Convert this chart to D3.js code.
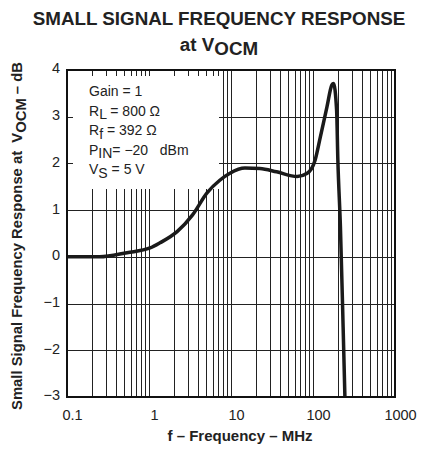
<!DOCTYPE html>
<html><head><meta charset="utf-8">
<script src="https://cdn.jsdelivr.net/npm/d3@7"></script>
<style>body{margin:0;background:#fff;} svg{display:block;font-family:"Liberation Sans",Arial,sans-serif;}</style>
</head><body>
<svg id="c" width="439" height="449"></svg>
<script>
const freq = [0.1, 0.25, 0.54, 1.03, 1.36, 2.2, 3.4, 5.1, 7.3, 9.7, 14.8, 22.5, 36, 64, 85, 106, 123, 148, 170, 178, 194, 201, 216, 233, 245];
const gain = [0, 0, 0.09, 0.19, 0.3, 0.54, 0.9, 1.37, 1.64, 1.79, 1.9, 1.89, 1.82, 1.72, 1.79, 2.07, 2.57, 3.21, 3.68, 3.71, 3.14, 2.07, 0.64, -1.5, -3];
const xTicks = [0.1, 1, 10, 100, 1000];
const xTickLabels = ["0.1", "1", "10", "100", "1000"];
const yTicks = [-3, -2, -1, 0, 1, 2, 3, 4];
const yTickLabels = ["\u22123", "\u22122", "\u22121", "0", "1", "2", "3", "4"];
const legendLines = [
  ["Gain = 1", "", ""],
  ["R", "L", " = 800 \u03A9"],
  ["R", "f", " = 392 \u03A9"],
  ["P", "IN", "= \u221220\u00A0\u00A0\u00A0dBm"],
  ["V", "S", " = 5 V"]
];

const svg = d3.select("#c");
const L = 67, R = 395, T = 70, B = 397;
const x = d3.scaleLog().domain([0.1, 1000]).range([L, R]);
const y = d3.scaleLinear().domain([-3, 4]).range([B, T]);

const gridX = [];
for (let d = 0.1; d < 1000; d *= 10) for (let k = 1; k <= 9; k++) gridX.push(+(d * k).toPrecision(3));
const g = svg.append("g").attr("stroke", "#222").attr("stroke-width", 1);
g.selectAll(".vx").data(gridX).join("line")
  .attr("x1", d => Math.round(x(d)) + 0.5).attr("x2", d => Math.round(x(d)) + 0.5)
  .attr("y1", T).attr("y2", B);
g.selectAll(".hy").data(yTicks).join("line")
  .attr("x1", L).attr("x2", R)
  .attr("y1", d => Math.round(y(d)) + 0.5).attr("y2", d => Math.round(y(d)) + 0.5);

svg.append("rect").attr("x", 73).attr("y", 76).attr("width", 146).attr("height", 113).attr("fill", "#fff");

svg.append("clipPath").attr("id", "clp").append("rect").attr("x", L).attr("y", T).attr("width", R - L).attr("height", B - T + 2);
const line = d3.line().x(d => x(d[0])).y(d => y(d[1])).curve(d3.curveMonotoneX);
svg.append("path").datum(freq.map((f, i) => [f, gain[i]]))
  .attr("d", line).attr("fill", "none").attr("stroke", "#1a1a1a").attr("stroke-width", 3.5)
  .attr("stroke-linejoin", "round").attr("clip-path", "url(#clp)");

svg.append("rect").attr("x", L).attr("y", T).attr("width", R - L).attr("height", B - T)
  .attr("fill", "none").attr("stroke", "#111").attr("stroke-width", 2);

const xAxis = svg.append("g").attr("transform", `translate(0,${B})`)
  .call(d3.axisBottom(x).tickValues(xTicks).tickFormat((d, i) => xTickLabels[i]).tickSize(0).tickPadding(13));
xAxis.select(".domain").remove();
xAxis.selectAll("text").attr("font-size", 14.5).attr("fill", "#222").attr("dx", 5).attr("font-family", "Liberation Sans, Arial, sans-serif");

const yAxis = svg.append("g").attr("transform", `translate(${L},0)`)
  .call(d3.axisLeft(y).tickValues(yTicks).tickFormat((d, i) => yTickLabels[i]).tickSize(0).tickPadding(7));
yAxis.select(".domain").remove();
yAxis.selectAll("text").attr("font-size", 14.5).attr("fill", "#222").attr("dy", "0.2em").attr("font-family", "Liberation Sans, Arial, sans-serif");

const lt = svg.append("g").attr("font-size", 14).attr("fill", "#222");
legendLines.forEach((ln, i) => {
  const t = lt.append("text").attr("x", 89).attr("y", 96 + i * 19.6);
  t.append("tspan").text(ln[0]);
  if (ln[1]) {
    t.append("tspan").attr("dy", 3.5).text(ln[1]);
    t.append("tspan").attr("dy", -3.5).text(ln[2]);
  }
});

svg.append("text").attr("x", 219).attr("y", 25).attr("text-anchor", "middle")
  .attr("font-size", 18.8).attr("font-weight", "bold").attr("fill", "#222")
  .text("SMALL SIGNAL FREQUENCY RESPONSE");
const t2 = svg.append("text").attr("x", 219).attr("y", 51).attr("text-anchor", "middle")
  .attr("font-size", 18.8).attr("font-weight", "bold").attr("fill", "#222");
t2.append("tspan").text("at V");
t2.append("tspan").attr("dy", 4).text("OCM");

svg.append("text").attr("x", 240).attr("y", 441).attr("text-anchor", "middle")
  .attr("font-size", 15).attr("font-weight", "bold").attr("fill", "#222")
  .text("f \u2013 Frequency \u2013 MHz");

const yl = svg.append("text").attr("transform", "translate(22,236) rotate(-90)").attr("text-anchor", "middle")
  .attr("font-size", 14.8).attr("font-weight", "bold").attr("fill", "#222");
yl.append("tspan").text("Small Signal Frequency Response at\u00A0\u00A0V");
yl.append("tspan").attr("dy", 4).text("OCM");
yl.append("tspan").attr("dy", -4).text(" \u2013 dB");
</script>
</body></html>
